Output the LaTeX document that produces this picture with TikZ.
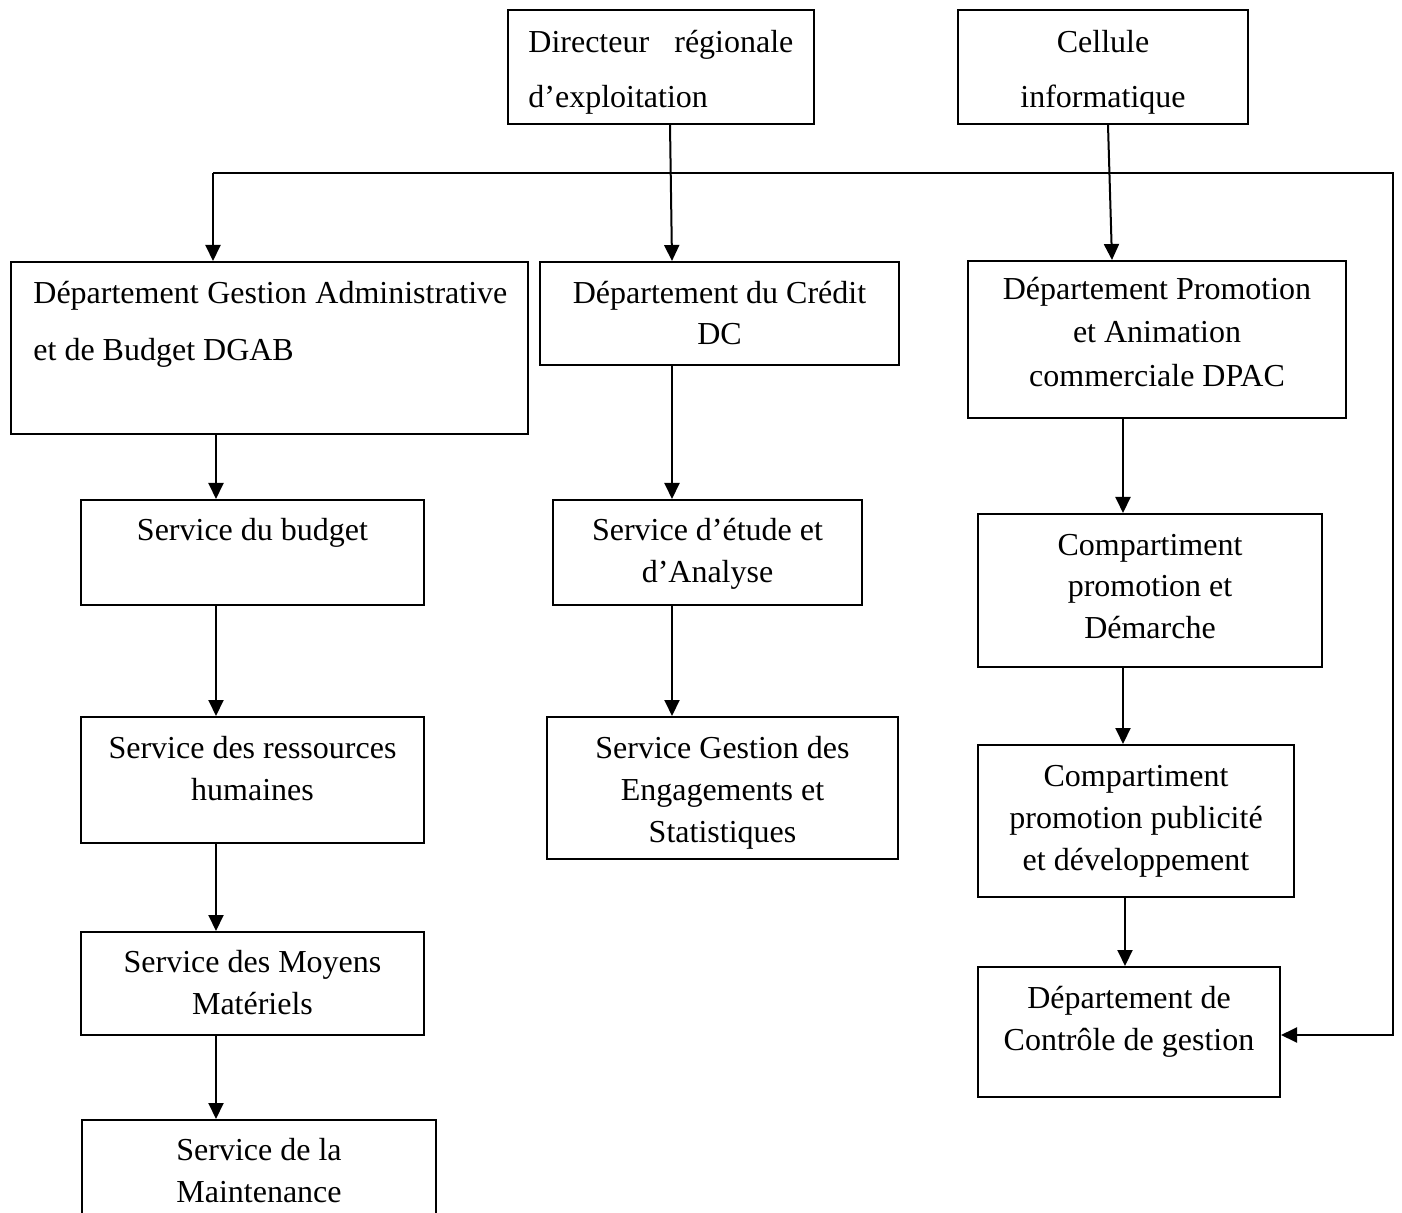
\documentclass[tikz,border=0pt]{standalone}
\usepackage{fontspec}
\setmainfont{Liberation Serif}
\usetikzlibrary{arrows.meta,fit}
\begin{document}
\begin{tikzpicture}[x=0.5pt,y=-0.5pt,
  box/.style={draw, line width=1pt, inner sep=0pt, fill=none},
  txt/.style={inner sep=0pt, align=center, font=\fontsize{16}{21}\selectfont},
  arr/.style={line width=1pt, -{Triangle[width=7.5pt,length=8pt]}},
  plain/.style={line width=1pt}]
\useasboundingbox (0,0) rectangle (1402,1213);
% boxes
\node[box, fit={(508,10) (814,124)}] (dir) {};
\node[box, fit={(958,10) (1248,124)}] (cel) {};
\node[box, fit={(11,262) (528,434)}] (dgab) {};
\node[box, fit={(540,262) (899,365)}] (dc) {};
\node[box, fit={(968,261) (1346,418)}] (dpac) {};
\node[box, fit={(81,500) (424,605)}] (sb) {};
\node[box, fit={(553,500) (862,605)}] (sea) {};
\node[box, fit={(978,514) (1322,667)}] (cpd) {};
\node[box, fit={(81,717) (424,843)}] (srh) {};
\node[box, fit={(547,717) (898,859)}] (sges) {};
\node[box, fit={(978,745) (1294,897)}] (cppd) {};
\node[box, fit={(81,932) (424,1035)}] (smm) {};
\node[box, fit={(978,967) (1280,1097)}] (dcg) {};
\node[box, fit={(82,1120) (436,1218)}] (sm) {};
% texts
\node[txt, align=left, anchor=north west, font=\fontsize{16}{27.5}\selectfont] (dirT) at (528,28)
  {\rule{0pt}{12pt}\makebox[132.5pt][s]{Directeur régionale}\\d’exploitation};
\node[txt, anchor=north, font=\fontsize{16}{27.5}\selectfont] (celT) at (1103,28)
  {\rule{0pt}{12pt}Cellule\\informatique};
\node[txt, align=left, anchor=north west, font=\fontsize{16}{28.5}\selectfont] (dgabT) at (33,279)
  {\rule{0pt}{12pt}\makebox[237pt][s]{Département Gestion Administrative}\\et de Budget DGAB};
\node[txt, anchor=north, font=\fontsize{16}{20.5}\selectfont] (dcT) at (719.5,279)
  {\rule{0pt}{12pt}Département du Crédit\\DC};
\node[txt, anchor=north, font=\fontsize{16}{21.75}\selectfont] (dpacT) at (1157,275)
  {\rule{0pt}{12pt}Département Promotion\\et Animation\\commerciale DPAC};
\node[txt, anchor=north] (sbT) at (252.5,516)
  {\rule{0pt}{12pt}Service du budget};
\node[txt, anchor=north] (seaT) at (707.5,516)
  {\rule{0pt}{12pt}Service d’étude et\\d’Analyse};
\node[txt, anchor=north, font=\fontsize{16}{20.75}\selectfont] (cpdT) at (1150,531)
  {\rule{0pt}{12pt}Compartiment\\promotion et\\Démarche};
\node[txt, anchor=north] (srhT) at (252.5,734)
  {\rule{0pt}{12pt}Service des ressources\\humaines};
\node[txt, anchor=north] (sgesT) at (722.5,734)
  {\rule{0pt}{12pt}Service Gestion des\\Engagements et\\Statistiques};
\node[txt, anchor=north] (cppdT) at (1136,762)
  {\rule{0pt}{12pt}Compartiment\\promotion publicité\\et développement};
\node[txt, anchor=north] (smmT) at (252.5,948)
  {\rule{0pt}{12pt}Service des Moyens\\Matériels};
\node[txt, anchor=north] (dcgT) at (1129,984)
  {\rule{0pt}{12pt}Département de\\Contrôle de gestion};
\node[txt, anchor=north] (smT) at (259,1136)
  {\rule{0pt}{12pt}Service de la\\Maintenance};
% helper coordinates
\coordinate (dirA) at (670,0);
\coordinate (colB) at (672,0);
\coordinate (celA) at (1108,0);
\coordinate (celB) at (1112,0);
\coordinate (colA) at (216,0);
\coordinate (colC) at (1123,0);
\coordinate (colD) at (1125,0);
\coordinate (busL) at (213,173);
\coordinate (busR) at (1393,173);
% connectors
\draw[arr] (dir.south -| dirA) -- (dc.north -| colB);
\draw[arr] (cel.south -| celA) -- (dpac.north -| celB);
\draw[arr] (busL) -- (dgab.north -| busL);
\draw[arr] (busL) -- (busR) |- ([yshift=-1.5pt]dcg.east);
\draw[arr] (dgab.south -| colA) -- (sb.north -| colA);
\draw[arr] (sb.south -| colA) -- (srh.north -| colA);
\draw[arr] (srh.south -| colA) -- (smm.north -| colA);
\draw[arr] (smm.south -| colA) -- (sm.north -| colA);
\draw[arr] (dc.south -| colB) -- (sea.north -| colB);
\draw[arr] (sea.south -| colB) -- (sges.north -| colB);
\draw[arr] (dpac.south -| colC) -- (cpd.north -| colC);
\draw[arr] (cpd.south -| colC) -- (cppd.north -| colC);
\draw[arr] (cppd.south -| colD) -- (dcg.north -| colD);
\end{tikzpicture}
\end{document}
